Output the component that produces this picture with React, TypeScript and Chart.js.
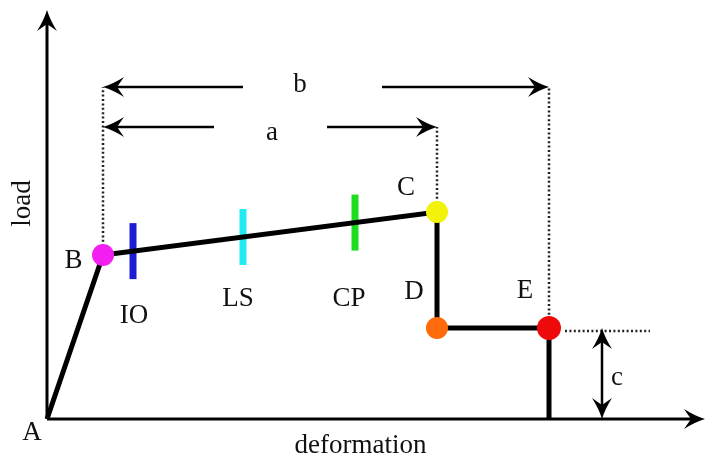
import { useEffect, useRef } from "react";
import { Chart, registerables } from "chart.js";

Chart.register(...registerables);

// Key points of the generalised load–deformation curve
const pointNames = ["A", "B", "C", "D", "E"];
const pointDeformation = [0, 1.12, 7.8, 7.8, 10.04];
const pointLoad = [0, 3.28, 4.14, 1.82, 1.82];
const pointColors = ["", "#f21ef2", "#f2f20a", "#ff6a0a", "#ee0a0a"];

// Performance levels marked along the B–C branch
const levelNames = ["IO", "LS", "CP"];
const levelDeformation = [1.72, 3.92, 6.16];
const levelColors = ["#1c1cd2", "#22eaf2", "#1edc1e"];
const levelHalfSpan = 0.56;

// Dimension annotations
const dimNames = ["a", "b", "c"];
const dimLevelA = 5.84;
const dimLevelB = 6.64;
const dimGapA = [3.34, 5.6];
const dimGapB = [3.92, 6.7];
const dimDeformationC = 11.1;
const residualLineEnd = 12.06;

// Axes
const axisTitles = ["deformation", "load"];
const axisTipX = 13.16;
const axisTipY = 8.18;

const FONT = "27px 'Liberation Serif', 'Times New Roman', serif";

type Label = { text: string; x: number; y: number; rotate?: boolean };

const labels: Label[] = [
  { text: pointNames[0], x: -0.3, y: -0.42 },
  { text: pointNames[1], x: 0.53, y: 3.02 },
  { text: pointNames[2], x: 7.18, y: 4.48 },
  { text: pointNames[3], x: 7.34, y: 2.4 },
  { text: pointNames[4], x: 9.56, y: 2.42 },
  { text: levelNames[0], x: 1.74, y: 1.92 },
  { text: levelNames[1], x: 3.82, y: 2.26 },
  { text: levelNames[2], x: 6.04, y: 2.26 },
  { text: dimNames[0], x: 4.5, y: 5.58 },
  { text: dimNames[1], x: 5.06, y: 6.54 },
  { text: dimNames[2], x: 11.4, y: 0.68 },
  { text: axisTitles[0], x: 6.27, y: -0.68 },
  { text: axisTitles[1], x: -0.34, y: 4.31, rotate: true },
];

const B = 1, C = 2, D = 3, E = 4;

// load on the B–C branch at a given deformation
function loadOnBC(d: number) {
  const t = (d - pointDeformation[B]) / (pointDeformation[C] - pointDeformation[B]);
  return pointLoad[B] + t * (pointLoad[C] - pointLoad[B]);
}

function segment(x1: number, y1: number, x2: number, y2: number, color: string, width: number, dash: number[] = []) {
  return {
    type: "scatter" as const,
    data: [{ x: x1, y: y1 }, { x: x2, y: y2 }],
    showLine: true,
    borderColor: color,
    backgroundColor: color,
    borderWidth: width,
    borderDash: dash,
    borderCapStyle: "butt" as const,
    pointRadius: 0,
    clip: false as const,
  };
}

const annotate = {
  id: "annotate",
  afterDatasetsDraw(chart: any) {
    const { ctx } = chart;
    const xs = chart.scales.x;
    const ys = chart.scales.y;
    const px = (v: number) => xs.getPixelForValue(v);
    const py = (v: number) => ys.getPixelForValue(v);

    const head = (x: number, y: number, angle: number) => {
      ctx.save();
      ctx.translate(px(x), py(y));
      ctx.rotate(angle);
      ctx.beginPath();
      ctx.moveTo(0, 0);
      ctx.quadraticCurveTo(-10, -3, -21, -10);
      ctx.lineTo(-14, 0);
      ctx.lineTo(-21, 10);
      ctx.quadraticCurveTo(-10, 3, 0, 0);
      ctx.closePath();
      ctx.fillStyle = "#000";
      ctx.fill();
      ctx.restore();
    };

    // axis arrowheads
    head(axisTipX, 0, 0);
    head(0, axisTipY, -Math.PI / 2);
    // dimension arrowheads
    head(pointDeformation[B], dimLevelA, Math.PI);
    head(pointDeformation[C], dimLevelA, 0);
    head(pointDeformation[B], dimLevelB, Math.PI);
    head(pointDeformation[E], dimLevelB, 0);
    head(dimDeformationC, pointLoad[E], -Math.PI / 2);
    head(dimDeformationC, 0, Math.PI / 2);

    ctx.save();
    ctx.font = FONT;
    ctx.fillStyle = "#111";
    ctx.textAlign = "center";
    ctx.textBaseline = "alphabetic";
    for (const l of labels) {
      if (l.rotate) {
        ctx.save();
        ctx.translate(px(l.x), py(l.y));
        ctx.rotate(-Math.PI / 2);
        ctx.fillText(l.text, 0, 0);
        ctx.restore();
      } else {
        ctx.fillText(l.text, px(l.x), py(l.y));
      }
    }
    ctx.restore();
  },
};

export default function App() {
  const ref = useRef<HTMLCanvasElement>(null);

  useEffect(() => {
    if (!ref.current) return;

    const markers = {
      type: "scatter" as const,
      data: [B, C, D, E].map((i) => ({ x: pointDeformation[i], y: pointLoad[i] })),
      pointRadius: [11, 11, 11, 12],
      pointBackgroundColor: [B, C, D, E].map((i) => pointColors[i]),
      pointBorderWidth: 0,
      showLine: false,
      clip: false as const,
    };

    const curveX = [...pointDeformation, pointDeformation[E]];
    const curveY = [...pointLoad, 0];
    const curve = {
      type: "scatter" as const,
      data: curveX.map((x, i) => ({ x, y: curveY[i] })),
      showLine: true,
      borderColor: "#000",
      borderWidth: 5,
      borderJoinStyle: "miter" as const,
      pointRadius: 0,
      clip: false as const,
    };

    const levelBars = levelDeformation.map((d, i) => {
      const c = loadOnBC(d);
      return segment(d, c - levelHalfSpan, d, c + levelHalfSpan, levelColors[i], 7);
    });

    const dotted = [2, 2.4];
    const guides = [
      segment(pointDeformation[B], pointLoad[B], pointDeformation[B], dimLevelB, "#222", 2.5, dotted),
      segment(pointDeformation[C], pointLoad[C], pointDeformation[C], dimLevelA, "#222", 2.5, dotted),
      segment(pointDeformation[E], pointLoad[E], pointDeformation[E], dimLevelB, "#222", 2.5, dotted),
      segment(pointDeformation[E] + 0.32, pointLoad[E] - 0.06, residualLineEnd, pointLoad[E] - 0.06, "#222", 2.5, dotted),
    ];

    const dims = [
      segment(pointDeformation[B] + 0.2, dimLevelA, dimGapA[0], dimLevelA, "#000", 2.5),
      segment(dimGapA[1], dimLevelA, pointDeformation[C] - 0.2, dimLevelA, "#000", 2.5),
      segment(pointDeformation[B] + 0.2, dimLevelB, dimGapB[0], dimLevelB, "#000", 2.5),
      segment(dimGapB[1], dimLevelB, pointDeformation[E] - 0.2, dimLevelB, "#000", 2.5),
      segment(dimDeformationC, pointLoad[E] - 0.2, dimDeformationC, 0.2, "#000", 2.5),
    ];

    const axes = [
      segment(0, 0, axisTipX - 0.2, 0, "#000", 3),
      segment(0, 0, 0, axisTipY - 0.2, "#000", 3),
    ];

    const chart = new Chart(ref.current, {
      type: "scatter",
      data: {
        datasets: [markers, curve, ...levelBars, ...axes, ...dims, ...guides] as any,
      },
      options: {
        animation: false,
        responsive: false,
        events: [],
        layout: { padding: 0, autoPadding: false },
        plugins: { legend: { display: false }, tooltip: { enabled: false } },
        scales: {
          x: { type: "linear", min: -0.94, max: 13.2, display: false },
          y: { type: "linear", min: -0.8, max: 8.38, display: false },
        },
      },
      plugins: [annotate],
    });

    return () => chart.destroy();
  }, []);

  return (
    <div style={{ position: "fixed", left: 0, top: 0, width: 707, height: 459, background: "#fff" }}>
      <canvas ref={ref} width={707} height={459} />
    </div>
  );
}
